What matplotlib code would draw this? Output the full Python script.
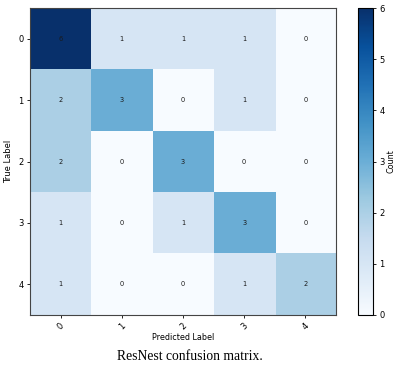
import numpy as np
import matplotlib
matplotlib.use("Agg")
import matplotlib.pyplot as plt

classes = ["0", "1", "2", "3", "4"]
cm = np.array([
    [6, 1, 1, 1, 0],
    [2, 3, 0, 1, 0],
    [2, 0, 3, 0, 0],
    [1, 0, 1, 3, 0],
    [1, 0, 0, 1, 2],
])

W, H = 397, 365
fig = plt.figure(figsize=(W / 100, H / 100), dpi=100)
ax = fig.add_axes([30 / W, 1 - 315 / H, 306 / W, 307 / H])
cax = fig.add_axes([358 / W, 1 - 315 / H, 15 / W, 307 / H])

im = ax.imshow(cm, cmap="Blues", vmin=0, vmax=6, aspect="auto")
for i in range(cm.shape[0]):
    for j in range(cm.shape[1]):
        ax.text(j, i, str(cm[i, j]), ha="center", va="center", fontsize=4.8, color="#1a1a1a")

ax.set_xticks(range(len(classes)))
ax.set_yticks(range(len(classes)))
ax.set_xticklabels(classes, rotation=45, fontsize=6)
ax.set_yticklabels(classes, fontsize=6)
ax.tick_params(length=2.5, width=0.6, pad=2)
ax.set_xlabel("Predicted Label", fontsize=5.8, labelpad=1)
ax.set_ylabel("True Label", fontsize=6, labelpad=4)
for s in ax.spines.values():
    s.set_linewidth(0.8)
    s.set_color("#444444")

cb = fig.colorbar(im, cax=cax)
cb.set_label("Count", fontsize=5.8, labelpad=1)
cb.ax.tick_params(labelsize=6, length=2.5, width=0.6, pad=2)
cb.outline.set_linewidth(0.8)

fig.text(190 / W, 1 - 356 / H, "ResNest confusion matrix.", ha="center", va="center",
         fontsize=9.8, family="Liberation Serif")

fig.savefig("out.png", dpi=100)
